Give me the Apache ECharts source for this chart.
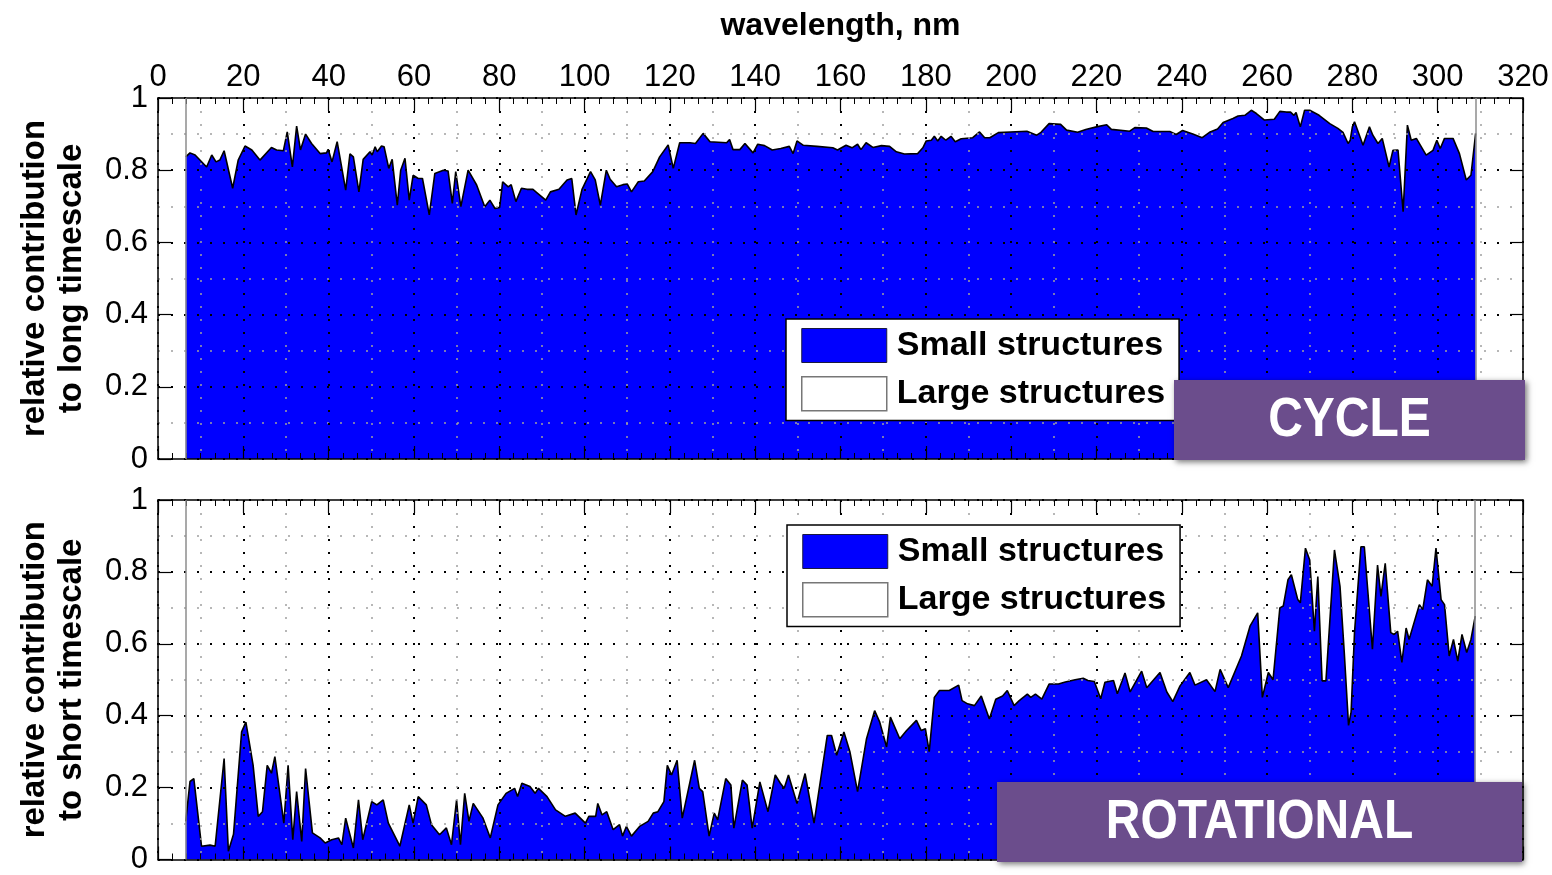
<!DOCTYPE html>
<html>
<head>
<meta charset="utf-8">
<script src="https://cdn.jsdelivr.net/npm/echarts@6/dist/echarts.min.js"></script>
<style>
  html, body { margin: 0; padding: 0; background: #fff; }
  #chart { width: 1552px; height: 875px; }
</style>
</head>
<body>
<div id="chart"></div>
<script>
// Relative contribution of small structures, long timescale (solar cycle)
const wavelengthLong = [
  6.5, 7.5, 8.7, 11.4, 12.6, 13.6, 14.5, 15.5, 17.5, 18.8, 20.4, 22, 23.9, 26.6, 27.8, 29.4,
  30.3, 31.5, 32.5, 33.4, 34.6, 36, 38, 39.5, 39.9, 40.8, 42, 44, 45, 45.8, 47.1, 48.1,
  49.7, 50.2, 50.9, 51.4, 52.4, 53, 54.1, 54.9, 56.1, 56.9, 57.9, 58.9, 59.8, 61, 62, 63.6,
  64.9, 66.9, 68, 69, 69.8, 71, 72.7, 74.7, 76.6, 77.8, 79, 80.1, 80.8, 82.1, 82.8, 83.9,
  85.2, 86.5, 87.9, 89, 90.9, 92, 94, 95.9, 97, 98, 99.4, 101.4, 102.5, 103.7, 105.1, 106,
  107.5, 109, 110, 111, 112.6, 114, 116, 117.6, 119.6, 120.8, 122.3, 124.7, 126, 127.8, 129.4, 133.3,
  134, 134.8, 136.4, 137.6, 139.5, 140.6, 142.2, 144, 146, 148, 148.9, 149.8, 151.3, 154.5, 158.2, 159.3,
  161.3, 162.7, 164, 164.8, 166, 167.6, 169.6, 171.5, 173.1, 175, 178.1, 179.3, 180.1, 181.3, 182, 182.8,
  183.6, 184.7, 185.9, 186.9, 188.3, 191, 192.6, 193.8, 195, 197, 199.8, 203.7, 206, 207, 208.9, 211.6,
  213, 215.6, 217.5, 220, 222.4, 223.5, 227.8, 229, 231.7, 233.3, 237.2, 238.7, 240.2, 242.6, 244.8, 246.5,
  248.4, 249.7, 252, 253.2, 254.8, 256.3, 257.5, 259.4, 261.7, 263, 264.5, 265.5, 266.3, 266.8, 267.8, 268.8,
  270, 272.2, 274.7, 276.6, 277.8, 279, 279.5, 280, 280.5, 282.5, 284, 284.8, 286, 287, 288.6, 289.5,
  290.7, 291.9, 292.9, 293.8, 295, 297.3, 298.9, 299.8, 300.6, 301.6, 303.6, 305.1, 306.7, 307.8, 308.9
];
const longTimescale = [
  0.837, 0.848, 0.842, 0.809, 0.842, 0.823, 0.828, 0.854, 0.750, 0.828, 0.867, 0.856, 0.828, 0.863, 0.856, 0.854,
  0.906, 0.809, 0.922, 0.856, 0.900, 0.874, 0.846, 0.848, 0.858, 0.823, 0.879, 0.745, 0.845, 0.837, 0.740, 0.830,
  0.851, 0.842, 0.865, 0.851, 0.867, 0.865, 0.805, 0.830, 0.703, 0.800, 0.833, 0.717, 0.786, 0.777, 0.777, 0.676,
  0.791, 0.800, 0.798, 0.708, 0.796, 0.699, 0.800, 0.759, 0.699, 0.717, 0.694, 0.697, 0.768, 0.754, 0.760, 0.713,
  0.750, 0.747, 0.747, 0.736, 0.717, 0.740, 0.747, 0.773, 0.777, 0.676, 0.747, 0.796, 0.773, 0.703, 0.800, 0.775,
  0.754, 0.760, 0.762, 0.740, 0.768, 0.770, 0.796, 0.837, 0.870, 0.805, 0.876, 0.876, 0.874, 0.902, 0.879, 0.876,
  0.885, 0.857, 0.857, 0.874, 0.848, 0.872, 0.868, 0.856, 0.860, 0.866, 0.846, 0.881, 0.869, 0.866, 0.862, 0.856,
  0.869, 0.862, 0.872, 0.857, 0.876, 0.863, 0.868, 0.866, 0.851, 0.845, 0.846, 0.862, 0.881, 0.883, 0.894, 0.881,
  0.894, 0.883, 0.894, 0.879, 0.887, 0.890, 0.906, 0.890, 0.890, 0.904, 0.906, 0.908, 0.897, 0.905, 0.929, 0.927,
  0.911, 0.905, 0.913, 0.920, 0.926, 0.913, 0.908, 0.918, 0.917, 0.907, 0.907, 0.899, 0.910, 0.900, 0.890, 0.905,
  0.914, 0.932, 0.943, 0.950, 0.952, 0.966, 0.957, 0.939, 0.941, 0.963, 0.961, 0.961, 0.952, 0.960, 0.920, 0.966,
  0.966, 0.952, 0.929, 0.916, 0.905, 0.874, 0.883, 0.920, 0.934, 0.869, 0.920, 0.897, 0.874, 0.888, 0.809, 0.855,
  0.856, 0.685, 0.925, 0.883, 0.888, 0.842, 0.855, 0.883, 0.860, 0.888, 0.888, 0.846, 0.773, 0.786, 0.902
];

// Relative contribution of small structures, short timescale (solar rotation)
const wavelengthShort = [
  6.5, 7.5, 8.4, 10.2, 12.2, 13.4, 15.5, 16.5, 17.7, 19.6, 20.6, 22.3, 23.5, 24.5, 25.6, 26.6,
  27.4, 29.5, 30.5, 31.6, 32.5, 33.7, 34.6, 36.2, 38, 39.2, 40.7, 42.3, 43.1, 44, 45.8, 47,
  48, 50.1, 51.3, 52.8, 54, 56.7, 58.9, 59.8, 61, 62.9, 64.1, 66, 67.6, 68.8, 70, 70.9,
  71.9, 72.9, 73.9, 76.2, 77.9, 79.7, 81.6, 83.6, 84.3, 85.3, 87.2, 88.4, 89.2, 91.2, 93.2, 95.5,
  97.8, 100.2, 101, 102.6, 103.1, 104.1, 105.2, 106.7, 108.2, 108.9, 109.8, 111, 112.9, 114.9, 116.1, 117.2,
  118.6, 119.4, 120.4, 121.7, 122.9, 125.8, 126.9, 127.7, 129.2, 130.4, 131.2, 133.1, 134.3, 135, 137, 138.1,
  139.3, 141.1, 143, 144.7, 145.9, 146.8, 147.8, 149.8, 151.7, 153.8, 156.9, 157.9, 159.1, 160.8, 162.2, 164,
  166.1, 168, 169.2, 170.8, 171.7, 173.9, 175.5, 177.8, 178.9, 179.9, 180.8, 182, 183.2, 185.5, 187.7, 188.5,
  189.8, 191.4, 193, 194.9, 196.4, 198, 199.1, 200.7, 201.9, 203.8, 204.6, 205.7, 207.2, 208.9, 211.1, 212.7,
  215, 216.9, 218, 219.5, 221, 222, 224, 224.9, 226.7, 227.9, 230.6, 231.8, 234.9, 236.5, 237.9, 239.6,
  241.9, 243.1, 245.8, 247.8, 249, 250.9, 254, 256, 257.8, 258.9, 260.3, 261.4, 263, 263.8, 264.9, 265.7,
  267.2, 267.8, 269, 270, 271.1, 271.9, 272.9, 273.8, 275.8, 277.1, 278.1, 279.1, 279.7, 280.5, 282, 282.8,
  284.7, 285.9, 286.7, 287.7, 289, 289.8, 290.6, 291.6, 292.6, 293.3, 295.7, 296.5, 297.6, 298.7, 299.6, 300.8,
  301.6, 302.7, 303.7, 304.7, 305.7, 306.8, 307.8, 308.8
];
const shortTimescale = [
  0.106, 0.217, 0.225, 0.037, 0.040, 0.037, 0.281, 0.023, 0.070, 0.355, 0.382, 0.262, 0.120, 0.133, 0.262, 0.240,
  0.286, 0.101, 0.262, 0.055, 0.189, 0.050, 0.253, 0.074, 0.060, 0.046, 0.055, 0.060, 0.041, 0.115, 0.032, 0.166,
  0.055, 0.161, 0.152, 0.166, 0.101, 0.037, 0.152, 0.101, 0.175, 0.152, 0.097, 0.069, 0.088, 0.041, 0.166, 0.041,
  0.184, 0.106, 0.156, 0.115, 0.060, 0.152, 0.184, 0.198, 0.175, 0.212, 0.203, 0.184, 0.198, 0.175, 0.138, 0.120,
  0.129, 0.101, 0.120, 0.120, 0.156, 0.124, 0.133, 0.083, 0.097, 0.065, 0.092, 0.065, 0.092, 0.106, 0.129, 0.133,
  0.161, 0.262, 0.235, 0.276, 0.115, 0.276, 0.198, 0.189, 0.065, 0.129, 0.110, 0.225, 0.207, 0.087, 0.221, 0.207,
  0.087, 0.216, 0.133, 0.235, 0.212, 0.198, 0.235, 0.156, 0.239, 0.101, 0.345, 0.345, 0.290, 0.355, 0.300, 0.189,
  0.336, 0.414, 0.382, 0.313, 0.396, 0.336, 0.359, 0.387, 0.359, 0.364, 0.300, 0.451, 0.470, 0.470, 0.485, 0.442,
  0.433, 0.428, 0.455, 0.391, 0.446, 0.455, 0.470, 0.428, 0.442, 0.460, 0.451, 0.460, 0.446, 0.488, 0.488, 0.494,
  0.500, 0.504, 0.498, 0.495, 0.447, 0.493, 0.498, 0.461, 0.519, 0.466, 0.524, 0.478, 0.520, 0.466, 0.439, 0.483,
  0.520, 0.485, 0.500, 0.467, 0.529, 0.478, 0.566, 0.649, 0.686, 0.451, 0.520, 0.500, 0.700, 0.705, 0.778, 0.792,
  0.723, 0.714, 0.866, 0.833, 0.635, 0.787, 0.497, 0.497, 0.861, 0.760, 0.576, 0.373, 0.410, 0.631, 0.870, 0.870,
  0.585, 0.819, 0.732, 0.824, 0.631, 0.626, 0.635, 0.548, 0.644, 0.612, 0.709, 0.695, 0.778, 0.760, 0.866, 0.723,
  0.709, 0.566, 0.612, 0.552, 0.626, 0.576, 0.612, 0.677
];

const seriesNames = ['Small structures', 'Large structures'];
const panelLabels = ['CYCLE', 'ROTATIONAL'];
const yAxisTitles = ['relative contribution\nto long timescale', 'relative contribution\nto short timescale'];
const xAxisTitle = 'wavelength, nm';

const FONT = '"Liberation Sans", Arial, Helvetica, sans-serif';
const BLUE = '#0000ff';
const PURPLE = '#6b4d8c';

const majorGrid = { show: true, lineStyle: { color: '#000', width: 2, type: [2, 11] } };
const minorGrid = { show: true, lineStyle: { color: '#a0a0a0', width: 1.5, type: [2, 11] } };
const frameLine = { show: true, onZero: false, lineStyle: { color: '#000', width: 1.5 } };
const innerTick = { show: true, inside: true, length: 13, lineStyle: { color: '#000', width: 1.2 } };
const hidden = { show: false };

// Three x axes per panel: minor grid (index 0), top frame (index 1), bottom frame (index 2)
function xAxesFor(g, withLabels) {
  const base = { gridIndex: g, type: 'value', min: 0, max: 320, z: 3 };
  return [
    Object.assign({}, base, {
      position: 'bottom', interval: 10,
      axisLine: { show: false, onZero: false }, axisTick: hidden, axisLabel: hidden,
      splitLine: minorGrid
    }),
    Object.assign({}, base, {
      position: 'top', interval: 20,
      axisLine: frameLine, axisTick: innerTick,
      minorTick: { show: true, splitNumber: 6, length: 6, lineStyle: { color: '#000', width: 1 } },
      axisLabel: { show: withLabels, fontSize: 31, color: '#000', fontFamily: FONT, margin: 5 },
      splitLine: majorGrid,
      name: withLabels ? xAxisTitle : '',
      nameLocation: 'middle', nameGap: 56,
      nameTextStyle: { fontSize: 32, fontWeight: 'bold', color: '#000', fontFamily: FONT }
    }),
    Object.assign({}, base, {
      position: 'bottom', interval: 20,
      axisLine: frameLine, axisTick: innerTick,
      minorTick: { show: true, splitNumber: 6, length: 6, lineStyle: { color: '#000', width: 1 } },
      axisLabel: hidden, splitLine: hidden
    })
  ];
}

// Three y axes per panel: minor grid (index 0), left frame with labels (index 1), right frame (index 2)
function yAxesFor(g) {
  const base = { gridIndex: g, type: 'value', min: 0, max: 1, z: 3 };
  return [
    Object.assign({}, base, {
      position: 'left', interval: 0.1,
      axisLine: { show: false, onZero: false }, axisTick: hidden, axisLabel: hidden,
      splitLine: minorGrid
    }),
    Object.assign({}, base, {
      position: 'left', interval: 0.2,
      axisLine: frameLine, axisTick: innerTick,
      axisLabel: { fontSize: 31, color: '#000', fontFamily: FONT, margin: 10 },
      splitLine: majorGrid,
      name: yAxisTitles[g], nameLocation: 'middle', nameRotate: 90, nameGap: 68,
      nameTextStyle: { fontSize: 33, fontWeight: 'bold', color: '#000', fontFamily: FONT, lineHeight: 37, align: 'center' }
    }),
    Object.assign({}, base, {
      position: 'right', interval: 0.2,
      axisLine: frameLine, axisTick: innerTick, axisLabel: hidden, splitLine: hidden
    })
  ];
}

function smallStructuresSeries(wl, vals, g) {
  return {
    name: seriesNames[0], type: 'line',
    xAxisIndex: g * 3 + 1, yAxisIndex: g * 3 + 1,
    data: wl.map((w, i) => [w, vals[i]]),
    showSymbol: false, symbol: 'none', smooth: false,
    itemStyle: { color: BLUE },
    lineStyle: { color: '#000', width: 1.6 },
    areaStyle: { color: BLUE, opacity: 1, origin: 'start' },
    markLine: {
      silent: true, symbol: 'none', label: { show: false },
      lineStyle: { color: '#8c8c8c', width: 1.5, type: 'solid' },
      data: [{ xAxis: wl[0] }, { xAxis: wl[wl.length - 1] }]
    },
    z: 2
  };
}

function legendFor(left, top) {
  return {
    left: left, top: top, orient: 'vertical',
    selectedMode: false,
    itemWidth: 85, itemHeight: 34, itemGap: 13,
    padding: [9, 14, 9, 15],
    backgroundColor: '#fff', borderColor: '#000', borderWidth: 1.5,
    textStyle: { fontSize: 34, fontWeight: 'bold', color: '#000', fontFamily: FONT, padding: [5, 0, 0, 5] },
    data: [
      { name: seriesNames[0], icon: 'rect', itemStyle: { color: BLUE, borderColor: '#1a1a40', borderWidth: 1 } },
      { name: seriesNames[1], icon: 'rect', itemStyle: { color: '#fff', borderColor: '#777', borderWidth: 1.5 } }
    ],
    z: 10
  };
}

function panelTag(x, y, w, h, text) {
  return [
    {
      type: 'rect', z: 100,
      shape: { x: x, y: y, width: w, height: h },
      style: { fill: PURPLE, shadowBlur: 6, shadowColor: 'rgba(0,0,0,0.55)', shadowOffsetX: 2, shadowOffsetY: 2 }
    },
    {
      type: 'text', z: 101, x: x + w / 2, y: y + h / 2 + 1, scaleY: 1.15,
      style: { text: text, fill: '#fff', font: 'bold 48px ' + FONT, align: 'center', verticalAlign: 'middle' }
    }
  ];
}

const chart = echarts.init(document.getElementById('chart'), null, { renderer: 'canvas' });
chart.setOption({
  animation: false,
  backgroundColor: '#fff',
  grid: [
    { left: 158, top: 98, width: 1365, height: 361 },
    { left: 158, top: 500, width: 1365, height: 362 }
  ],
  xAxis: xAxesFor(0, true).concat(xAxesFor(1, false)),
  yAxis: yAxesFor(0).concat(yAxesFor(1)),
  legend: [legendFor(786, 319), legendFor(787, 525)],
  series: [
    smallStructuresSeries(wavelengthLong, longTimescale, 0),
    smallStructuresSeries(wavelengthShort, shortTimescale, 1),
    { name: seriesNames[1], type: 'line', xAxisIndex: 1, yAxisIndex: 1, data: [], itemStyle: { color: '#fff' } }
  ],
  graphic: panelTag(1174, 380, 351, 80, panelLabels[0]).concat(panelTag(997, 782, 525, 80, panelLabels[1]))
});
</script>
</body>
</html>
